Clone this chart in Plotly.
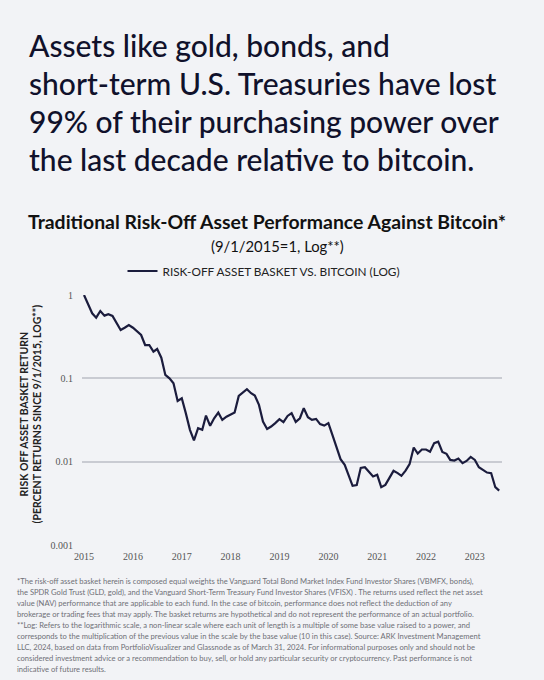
import plotly.graph_objects as go
import pandas as pd

# ---------------- data ----------------
start_month = "2015-09-01"
basket_vs_btc = [
    1.0, 0.774, 0.603, 0.535, 0.643, 0.565, 0.587, 0.560, 0.471, 0.380,
    0.405, 0.437, 0.405, 0.363, 0.331, 0.251, 0.251, 0.209, 0.225, 0.177,
    0.110, 0.100, 0.0873, 0.0536, 0.0577, 0.0382, 0.0241, 0.0180, 0.0252, 0.0241,
    0.0357, 0.0269, 0.0332, 0.0388, 0.0317, 0.0347, 0.0371, 0.0388, 0.0615, 0.0681,
    0.0740, 0.0663, 0.0621, 0.0480, 0.0303, 0.0247, 0.0264, 0.0290, 0.0323, 0.0298,
    0.0354, 0.0382, 0.0300, 0.0332, 0.0438, 0.0342, 0.0317, 0.0326, 0.0282, 0.0271,
    0.0290, 0.0210, 0.0152, 0.0107, 0.00916, 0.00676, 0.00513, 0.00523, 0.00843, 0.00859,
    0.00748, 0.00663, 0.00695, 0.00494, 0.00527, 0.00645, 0.00776, 0.00728, 0.00676, 0.00782,
    0.00933, 0.0148, 0.0125, 0.0140, 0.0140, 0.0132, 0.0167, 0.0174, 0.0131, 0.0124,
    0.0105, 0.0103, 0.0109, 0.00960, 0.0102, 0.0114, 0.0105, 0.00859, 0.00797, 0.00740,
    0.00728, 0.00494, 0.00450,
]
dates = pd.date_range(start_month, periods=len(basket_vs_btc), freq="MS")

year_labels = ["2015", "2016", "2017", "2018", "2019", "2020", "2021", "2022", "2023"]
year_tick_dates = [f"{y}-09-01" for y in year_labels]
y_tick_values = [0.001, 0.01, 0.1, 1]
y_tick_labels = ["0.001", "0.01", "0.1", "1"]

headline_lines = [
    "Assets like gold, bonds, and",
    "short-term U.S. Treasuries have lost",
    "99% of their purchasing power over",
    "the last decade relative to bitcoin.",
]
chart_title = "Traditional Risk-Off Asset Performance Against Bitcoin*"
chart_subtitle = "(9/1/2015=1, Log**)"
series_name = "RISK-OFF ASSET BASKET VS. BITCOIN (LOG)"
y_title_lines = ["RISK OFF ASSET BASKET RETURN", "(PERCENT RETURNS SINCE 9/1/2015, LOG**)"]
footnote_lines = [
    "*The risk-off asset basket herein is composed equal weights the Vanguard Total Bond Market Index Fund Investor Shares (VBMFX, bonds),",
    "the SPDR Gold Trust (GLD, gold), and the Vanguard Short-Term Treasury Fund Investor Shares (VFISX) . The returns used reflect the net asset",
    "value (NAV) performance that are applicable to each fund. In the case of bitcoin, performance does not reflect the deduction of any",
    "brokerage or trading fees that may apply. The basket returns are hypothetical and do not represent the performance of an actual portfolio.",
    "**Log: Refers to the logarithmic scale, a non-linear scale where each unit of length is a multiple of some base value raised to a power, and",
    "corresponds to the multiplication of the previous value in the scale by the base value (10 in this case). Source: ARK Investment Management",
    "LLC, 2024, based on data from PortfolioVisualizer and Glassnode as of March 31, 2024. For informational purposes only and should not be",
    "considered investment advice or a recommendation to buy, sell, or hold any particular security or cryptocurrency. Past performance is not",
    "indicative of future results.",
]

# ---------------- styling ----------------
W, H = 544, 680
L, R, T, B = 82, 42, 295, 135
BG = "#f2f3f6"
NAVY = "#1b1c3d"
GRID = "#c9cbd2"
SANS = "Lato, 'Open Sans', sans-serif"
SERIF = "'Liberation Serif', 'DejaVu Serif', serif"

pw = W - L - R
ph = H - T - B


def px_x(x):
    return (x - L) / pw


def px_y(y):
    return (H - B - y) / ph


fig = go.Figure()
fig.add_trace(go.Scatter(
    x=dates, y=basket_vs_btc, mode="lines", name=series_name,
    line=dict(color=NAVY, width=2.2), showlegend=True,
))

x_range = ["2015-08-17", "2024-03-22"]

annotations = []
for i, line in enumerate(headline_lines):
    annotations.append(dict(
        text=line, xref="paper", yref="paper", x=px_x(27), y=px_y(45 + 38 * i),
        xanchor="left", yanchor="middle", showarrow=False,
        font=dict(family=SANS, size=30, color="#10112b", weight=500),
    ))
annotations.append(dict(
    text=f"<b>{chart_title}</b>", xref="paper", yref="paper", x=px_x(267), y=px_y(221),
    xanchor="center", yanchor="middle", showarrow=False,
    font=dict(family=SANS, size=19.4, color="#111"),
))
annotations.append(dict(
    text=chart_subtitle, xref="paper", yref="paper", x=px_x(277), y=px_y(246),
    xanchor="center", yanchor="middle", showarrow=False,
    font=dict(family=SANS, size=14.8, color="#111"),
))
annotations.append(dict(
    text="<b>" + y_title_lines[0] + "</b><br><b>" + y_title_lines[1] + "</b>",
    xref="paper", yref="paper", x=px_x(30.5), y=px_y(414),
    xanchor="center", yanchor="middle", textangle=-90, showarrow=False,
    font=dict(family=SANS, size=10.5, color="#222"),
))
for i, line in enumerate(footnote_lines):
    annotations.append(dict(
        text=line, xref="paper", yref="paper", x=px_x(15), y=px_y(581 + 11 * i),
        xanchor="left", yanchor="middle", showarrow=False,
        font=dict(family=SANS, size=7.6, color="#6f7076"),
    ))

fig.update_layout(
    width=W, height=H,
    margin=dict(l=L, r=R, t=T, b=B, pad=0),
    paper_bgcolor=BG, plot_bgcolor=BG,
    font=dict(family=SANS),
    showlegend=True,
    legend=dict(
        orientation="h", x=px_x(264), y=px_y(271), xanchor="center", yanchor="middle",
        bgcolor="rgba(0,0,0,0)", font=dict(family=SANS, size=11.8, color="#222"),
    ),
    xaxis=dict(
        type="date", range=x_range, tickmode="array",
        tickvals=year_tick_dates, ticktext=year_labels,
        showgrid=False, zeroline=False, showline=False, ticks="",
        tickfont=dict(family=SERIF, size=10, color="#555"),
        ticklabelstandoff=4,
    ),
    xaxis2=dict(
        type="date", range=x_range, overlaying="x", side="top", anchor="y",
        showline=True, linecolor=GRID, linewidth=1.2,
        ticks="inside", ticklen=3, tickcolor=GRID, tickwidth=1,
        tick0="2015-09-01", dtick="M1",
        showticklabels=False, showgrid=False, zeroline=False,
    ),
    yaxis=dict(
        type="log", range=[-3, 0], tickmode="array",
        tickvals=y_tick_values, ticktext=y_tick_labels,
        showgrid=True, gridcolor=GRID, gridwidth=1.5,
        zeroline=False, showline=False, ticks="",
        tickfont=dict(family=SERIF, size=10, color="#555"),
        ticklabelstandoff=8,
    ),
    annotations=annotations,
)

fig.write_html(
    "out.html",
    config={"displayModeBar": False},
    post_script="document.body.style.margin='0';document.body.style.background='#f2f3f6';",
)
